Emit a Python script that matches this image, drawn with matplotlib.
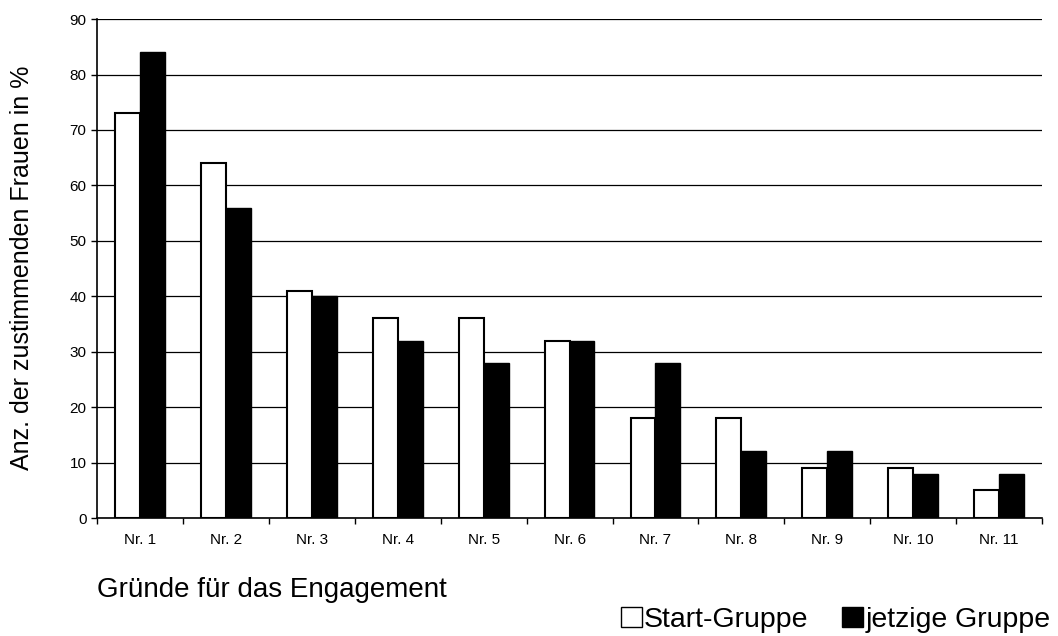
import numpy as np
import matplotlib.pyplot as plt
from matplotlib.patches import Patch

plt.rcParams['font.family'] = ['Liberation Sans', 'DejaVu Sans']

categories = ["Nr. 1", "Nr. 2", "Nr. 3", "Nr. 4", "Nr. 5", "Nr. 6",
              "Nr. 7", "Nr. 8", "Nr. 9", "Nr. 10", "Nr. 11"]
start_gruppe = [73, 64, 41, 36, 36, 32, 18, 18, 9, 9, 5]
jetzige_gruppe = [84, 56, 40, 32, 28, 32, 28, 12, 12, 8, 8]
y_ticks = list(range(0, 91, 10))

fig = plt.figure(figsize=(10.58, 6.36), dpi=100)
ax = fig.add_axes([0.0917, 0.1855, 0.8933, 0.7845])

x = np.arange(len(categories))
w = 0.29
ax.bar(x - w / 2, start_gruppe, w, color="white", edgecolor="black", linewidth=1.5, zorder=3)
ax.bar(x + w / 2, jetzige_gruppe, w, color="black", edgecolor="black", linewidth=1.0, zorder=3)

ax.set_xlim(-0.5, len(categories) - 0.5)
ax.set_ylim(0, 90)
ax.set_yticks(y_ticks)
ax.tick_params(axis="y", labelsize=11, direction="out", length=4, width=1)
ax.yaxis.grid(True, color="black", linewidth=0.9, zorder=0)
ax.set_axisbelow(True)

ax.set_xticks(x)
ax.set_xticklabels(categories, fontsize=11)
ax.tick_params(axis="x", length=0, pad=11)
ax.set_xticks(np.arange(-0.5, len(categories), 1), minor=True)
ax.tick_params(axis="x", which="minor", direction="out", length=4, width=1)

for s in ["top", "right"]:
    ax.spines[s].set_visible(False)
ax.spines["left"].set_linewidth(1.2)
ax.spines["bottom"].set_linewidth(1.2)

fig.text(0.021, 0.579, "Anz. der zustimmenden Frauen in %", fontsize=18,
         rotation=90, ha="center", va="center")
fig.text(0.0917, 0.0613, "Gründe für das Engagement", fontsize=20, va="baseline", ha="left")

handles = [Patch(facecolor="white", edgecolor="black", linewidth=1),
           Patch(facecolor="black", edgecolor="black")]
fig.legend(handles, ["Start-Gruppe", "jetzige Gruppe"], loc="lower right",
           bbox_to_anchor=(1.017, -0.036), ncol=2, frameon=False, fontsize=20.5,
           handlelength=0.72, handleheight=0.72, handletextpad=0.08, columnspacing=1.2)

fig.savefig("out.png", dpi=100)
